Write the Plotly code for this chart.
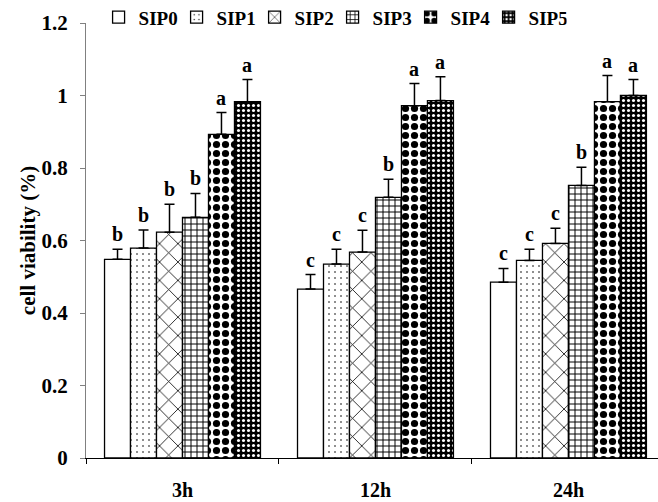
import plotly.graph_objects as go

categories = ["3h", "12h", "24h"]
series = ["SIP0", "SIP1", "SIP2", "SIP3", "SIP4", "SIP5"]
values = {
    "SIP0": [0.548, 0.466, 0.485],
    "SIP1": [0.579, 0.535, 0.545],
    "SIP2": [0.623, 0.568, 0.592],
    "SIP3": [0.664, 0.719, 0.752],
    "SIP4": [0.893, 0.972, 0.983],
    "SIP5": [0.983, 0.986, 1.000],
}
errors = {
    "SIP0": [0.028, 0.040, 0.038],
    "SIP1": [0.050, 0.041, 0.031],
    "SIP2": [0.077, 0.060, 0.042],
    "SIP3": [0.066, 0.050, 0.050],
    "SIP4": [0.060, 0.061, 0.072],
    "SIP5": [0.061, 0.066, 0.044],
}
letters = {
    "SIP0": ["b", "c", "c"],
    "SIP1": ["b", "c", "c"],
    "SIP2": ["b", "c", "c"],
    "SIP3": ["b", "b", "b"],
    "SIP4": ["a", "a", "a"],
    "SIP5": ["a", "a", "a"],
}

patterns = {
    "SIP0": dict(shape="", fillmode="replace", bgcolor="white"),
    "SIP1": dict(shape=".", bgcolor="white", fgcolor="black", size=6, solidity=0.06, fillmode="replace"),
    "SIP2": dict(shape="x", bgcolor="white", fgcolor="black", size=13, solidity=0.12, fillmode="replace"),
    "SIP3": dict(shape="+", bgcolor="white", fgcolor="black", size=6, solidity=0.3, fillmode="replace"),
    "SIP4": dict(shape=".", bgcolor="white", fgcolor="black", size=9, solidity=0.5, fillmode="replace"),
    "SIP5": dict(shape=".", bgcolor="black", fgcolor="white", size=5, solidity=0.3, fillmode="replace"),
}

FONT = "Liberation Serif"
bargap = 0.192
fig = go.Figure()
for s in series:
    fig.add_trace(go.Bar(
        name=s, x=categories, y=values[s],
        marker=dict(color="white", line=dict(color="black", width=1.3), pattern=patterns[s]),
        error_y=dict(type="data", array=errors[s], arrayminus=[0] * 3, symmetric=False,
                     color="black", thickness=1.5, width=5),
    ))

bw = (1 - bargap) / len(series)
for j, s in enumerate(series):
    for i, c in enumerate(categories):
        fig.add_annotation(
            x=i + (j - (len(series) - 1) / 2) * bw, y=values[s][i] + errors[s][i],
            text=letters[s][i], showarrow=False, yanchor="bottom", yshift=2,
            font=dict(family=FONT, size=20, color="black", weight="bold"),
        )

fig.update_layout(
    width=658, height=502,
    margin=dict(l=86, r=0, t=23, b=44, autoexpand=False),
    plot_bgcolor="white", paper_bgcolor="white",
    barmode="group", bargap=bargap, bargroupgap=0,
    showlegend=True,
    legend=dict(orientation="h", x=0.022, y=1.013, xanchor="left", yanchor="middle",
                font=dict(family=FONT, size=19, color="black", weight="bold"),
                itemwidth=30, entrywidth=33, tracegroupgap=0, bgcolor="rgba(0,0,0,0)"),
    font=dict(family=FONT, color="black"),
)
fig.update_xaxes(
    type="category", range=[-0.5, 2.464], showline=True, linecolor="black", linewidth=1.3,
    ticks="outside", tickson="boundaries", ticklen=5, tickcolor="black",
    ticklabelstandoff=14, automargin=False,
    tickfont=dict(family=FONT, size=20, color="black", weight="bold"),
    showgrid=False, zeroline=False,
)
fig.update_yaxes(
    range=[0, 1.2], tickvals=[0, 0.2, 0.4, 0.6, 0.8, 1.0, 1.2],
    ticktext=["0", "0.2", "0.4", "0.6", "0.8", "1", "1.2"],
    showline=True, linecolor="#808080", linewidth=1, ticks="outside", ticklen=5, tickcolor="#808080",
    ticklabelstandoff=8, automargin=False,
    tickfont=dict(family=FONT, size=21, color="black", weight="bold"),
    title=dict(text="cell viability (%)", font=dict(family=FONT, size=21, color="black", weight="bold"), standoff=0),
    showgrid=False, zeroline=False,
)

fig.write_html("out.html", config={"displayModeBar": False},
               post_script="document.body.style.margin='0';document.body.style.padding='0';document.body.style.overflow='hidden';")
